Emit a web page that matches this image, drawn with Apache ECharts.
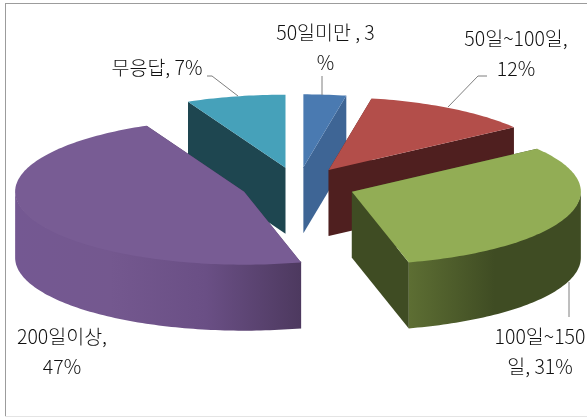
<!DOCTYPE html>
<html>
<head>
<meta charset="utf-8">
<style>html,body{margin:0;padding:0;background:#fff}#c{width:587px;height:417px}</style>
<script src="https://cdn.jsdelivr.net/npm/echarts@6/dist/echarts.min.js"></script>
</head>
<body>
<div id="c"></div>
<script>
var categories = ['50일미만', '50일~100일', '100일~150일', '200일이상', '무응답'];
var values = [3, 12, 31, 47, 7];
var labelTexts = ['50일미만 , 3\n%', '50일~100일,\n12%', '100일~150\n일, 31%', '200일이상,\n47%', '무응답, 7%'];
var topColors = ['#4a7ab1', '#b34e4a', '#92ad55', '#785c94', '#46a1ba'];
var sideColors = ['#3e6595', '#4f1f1f', '#3f4c23', '#4f3a60', '#1e4650'];
var wallStops = [
  ['#3e6595', '#3e6595'],
  ['#4f1f1f', '#4f1f1f'],
  ['#5d6e33', '#3f4c23', '#3f4c23'],
  ['#745892', '#74588f', '#6a4f85', '#4d395f'],
  ['#1e4650', '#1e4650']
];

var CX = 298, CY = 185.5, RX = 229, RY = 73, DEPTH = 66, EXPLODE = 0.25;
var FONT = '"Noto Sans CJK KR","Noto Sans",sans-serif';
var labelLayout = [[325.5, 47.5], [516, 53.5], [540, 352], [62, 352], [157, 68]];
var leaderLines = [
  [[322, 76], [322, 95]],
  [[487, 76], [478, 76], [448, 107]],
  [[569, 317], [569, 282]],
  null,
  [[207, 76], [212, 76], [238, 96]]
];
var total = values.reduce(function (a, b) { return a + b; }, 0);

function rim(o, a) {
  return [o[0] + RX * Math.sin(a), o[1] - RY * Math.cos(a)];
}
function arcPts(o, a0, a1, dy) {
  var pts = [], n = Math.max(2, Math.ceil(Math.abs(a1 - a0) / 0.02));
  for (var i = 0; i <= n; i++) {
    var p = rim(o, a0 + (a1 - a0) * i / n);
    pts.push([p[0], p[1] + (dy || 0)]);
  }
  return pts;
}
function renderSlice(params, api) {
  var i = params.dataIndex;
  var before = 0;
  for (var k = 0; k < i; k++) before += values[k];
  var a0 = before / total * 2 * Math.PI;
  var a1 = (before + api.value(0)) / total * 2 * Math.PI;
  var mid = (a0 + a1) / 2;
  var o = [CX + EXPLODE * RX * Math.sin(mid), CY - EXPLODE * RY * Math.cos(mid)];
  var base = Math.round(o[1]) * 10;
  var kids = [];
  [a0, a1].forEach(function (a, j) {
    var p = rim(o, a);
    kids.push({
      type: 'polygon', z2: base + j,
      shape: { points: [o, p, [p[0], p[1] + DEPTH], [o[0], o[1] + DEPTH]] },
      style: { fill: sideColors[i] }
    });
  });
  var w0 = Math.max(a0, Math.PI / 2), w1 = Math.min(a1, 1.5 * Math.PI);
  if (w1 > w0) {
    var up = arcPts(o, w0, w1, -1), down = arcPts(o, w1, w0, DEPTH);
    var xs = up.map(function (p) { return p[0]; });
    var minX = Math.min.apply(null, xs), maxX = Math.max.apply(null, xs);
    var stops = wallStops[i];
    kids.push({
      type: 'polygon', z2: base + 3,
      shape: { points: up.concat(down) },
      style: {
        fill: {
          type: 'linear', x: minX, y: 0, x2: maxX, y2: 0, global: true,
          colorStops: stops.map(function (c, n) { return { offset: n / (stops.length - 1), color: c }; })
        }
      }
    });
  }
  kids.push({
    type: 'polygon', z2: base + 4,
    shape: { points: [o].concat(arcPts(o, a0, a1, 0)) },
    style: { fill: topColors[i] }
  });
  if (leaderLines[i]) {
    kids.push({
      type: 'polyline', z2: 5000,
      shape: { points: leaderLines[i] },
      style: { stroke: '#7f7f7f', lineWidth: 1, fill: null }
    });
  }
  kids.push({
    type: 'text', z2: 5001,
    x: labelLayout[i][0], y: labelLayout[i][1],
    style: {
      text: labelTexts[i], font: '300 19.5px ' + FONT, fill: '#111',
      align: 'center', verticalAlign: 'middle', lineHeight: 30
    }
  });
  return { type: 'group', children: kids };
}

var chart = echarts.init(document.getElementById('c'), null, { renderer: 'canvas' });
chart.setOption({
  animation: false,
  backgroundColor: '#fff',
  graphic: [
    { type: 'line', silent: true, shape: { x1: 5, y1: 3.5, x2: 587, y2: 3.5 }, style: { stroke: '#9c9c9c', lineWidth: 1 } },
    { type: 'line', silent: true, shape: { x1: 5.5, y1: 3, x2: 5.5, y2: 417 }, style: { stroke: '#9c9c9c', lineWidth: 1 } },
    { type: 'line', silent: true, shape: { x1: 5, y1: 416.5, x2: 587, y2: 416.5 }, style: { stroke: '#e4e4e4', lineWidth: 1 } }
  ],
  series: [{
    type: 'custom',
    coordinateSystem: 'none',
    renderItem: renderSlice,
    data: values.map(function (v, i) { return { name: categories[i], value: [v] }; })
  }]
});
</script>
</body>
</html>
